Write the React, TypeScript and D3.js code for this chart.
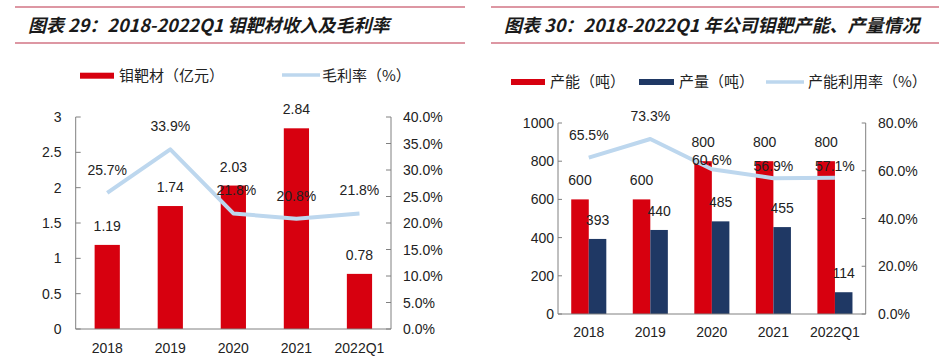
import React from 'react';
import * as d3 from 'd3';

const categories = ['2018', '2019', '2020', '2021', '2022Q1'];
// Chart 29
const revenue = [1.19, 1.74, 2.03, 2.84, 0.78];
const grossMargin = [25.7, 33.9, 21.8, 20.8, 21.8];
const revenueTicks = [0, 0.5, 1, 1.5, 2, 2.5, 3];
const marginTicks = [0, 5, 10, 15, 20, 25, 30, 35, 40];
// Chart 30
const capacity = [600, 600, 800, 800, 800];
const production = [393, 440, 485, 455, 114];
const utilization = [65.5, 73.3, 60.6, 56.9, 57.1];
const tonTicks = [0, 200, 400, 600, 800, 1000];
const utilTicks = [0, 20, 40, 60, 80];

const title1 = '图表 29：2018-2022Q1 钼靶材收入及毛利率';
const title2 = '图表 30：2018-2022Q1 年公司钼靶产能、产量情况';

// layout-only label adjustments (px)
const utilLabelDy = [-18, -18, -4, -7, -7];

const RED = '#d7000f';
const NAVY = '#1f3864';
const LIGHT = '#bdd7ee';
const AXIS = '#808080';
const PINK = '#d27585';
const NUM_FONT = '"Liberation Sans", Arial, "Noto Sans CJK SC", sans-serif';
const CJK_FONT = '"Noto Sans CJK SC", sans-serif';

function Header({ x0, x1, title, tx }: { x0: number; x1: number; title: string; tx: number }) {
  return (
    <g>
      <line x1={x0} x2={x1} y1={7} y2={7} stroke={PINK} strokeWidth={1.5} />
      <line x1={x0} x2={x1} y1={43} y2={43} stroke={PINK} strokeWidth={1.5} />
      <text x={tx} y={32} fontFamily={CJK_FONT} fontSize={18} fontWeight="bold" fontStyle="italic" fill="#1a1a1a">
        {title}
      </text>
    </g>
  );
}

function Chart1() {
  const left = 75.7, right = 391, top = 117, bottom = 329;
  const x = d3.scaleBand<string>().domain(categories).range([left, right]).paddingInner(0).paddingOuter(0);
  const yL = d3.scaleLinear().domain([0, 3]).range([bottom, top]);
  const yR = d3.scaleLinear().domain([0, 40]).range([bottom, top]);
  const bw = x.bandwidth() * 0.4;
  const cx = (c: string) => (x(c) as number) + x.bandwidth() / 2;
  const line = d3.line<number>().x((_, i) => cx(categories[i])).y((d) => yR(d));
  return (
    <g>
      {/* legend */}
      <rect x={80} y={72.7} width={34} height={6} fill={RED} />
      <text x={119} y={81} fontFamily={CJK_FONT} fontSize={15} fill="#222">钼靶材（亿元）</text>
      <line x1={282} x2={320} y1={75} y2={75} stroke={LIGHT} strokeWidth={3.5} />
      <text x={322} y={81} fontFamily={CJK_FONT} fontSize={15} fill="#222">毛利率（%）</text>
      {/* bars */}
      {revenue.map((v, i) => (
        <rect key={i} x={cx(categories[i]) - bw / 2} y={yL(v)} width={bw} height={bottom - yL(v)} fill={RED} />
      ))}
      {/* axes */}
      <line x1={left} x2={left} y1={top} y2={bottom} stroke={AXIS} />
      <line x1={right} x2={right} y1={top} y2={bottom} stroke={AXIS} />
      <line x1={left} x2={right} y1={bottom} y2={bottom} stroke={AXIS} />
      {revenueTicks.map((t) => (
        <g key={'l' + t}>
          <line x1={left} x2={left + 5} y1={yL(t)} y2={yL(t)} stroke={AXIS} />
          <text x={61.5} y={yL(t) + 5} textAnchor="end" fontFamily={NUM_FONT} fontSize={14} fill="#222">{String(t)}</text>
        </g>
      ))}
      {marginTicks.map((t) => (
        <g key={'r' + t}>
          <line x1={right - 5} x2={right} y1={yR(t)} y2={yR(t)} stroke={AXIS} />
          <text x={403} y={yR(t) + 5} fontFamily={NUM_FONT} fontSize={14} fill="#222">{t.toFixed(1) + '%'}</text>
        </g>
      ))}
      {categories.map((c) => (
        <text key={c} x={cx(c)} y={353} textAnchor="middle" fontFamily={NUM_FONT} fontSize={14} fill="#222">{c}</text>
      ))}
      {/* line */}
      <path d={line(grossMargin) as string} fill="none" stroke={LIGHT} strokeWidth={4} strokeLinejoin="round" />
      {/* labels */}
      {revenue.map((v, i) => (
        <text key={'bl' + i} x={cx(categories[i])} y={yL(v) - 14} textAnchor="middle" fontFamily={NUM_FONT} fontSize={14} fill="#222">{v.toFixed(2)}</text>
      ))}
      {grossMargin.map((v, i) => (
        <text key={'ll' + i} x={cx(categories[i]) + (i === 2 ? 3 : 0)} y={yR(v) - 18} textAnchor="middle" fontFamily={NUM_FONT} fontSize={14} fill="#222">{v.toFixed(1) + '%'}</text>
      ))}
    </g>
  );
}

function Chart2() {
  const left = 558, right = 865.7, top = 123, bottom = 314;
  const x = d3.scaleBand<string>().domain(categories).range([left, right]).paddingInner(0).paddingOuter(0);
  const yL = d3.scaleLinear().domain([0, 1000]).range([bottom, top]);
  const yR = d3.scaleLinear().domain([0, 80]).range([bottom, top]);
  const bw = x.bandwidth() * 0.285;
  const cx = (c: string) => (x(c) as number) + x.bandwidth() / 2;
  const line = d3.line<number>().x((_, i) => cx(categories[i])).y((d) => yR(d));
  return (
    <g>
      {/* legend */}
      <rect x={511} y={79} width={34} height={6} fill={RED} />
      <text x={550} y={87} fontFamily={CJK_FONT} fontSize={15} fill="#222">产能（吨）</text>
      <rect x={639} y={79} width={35} height={6} fill={NAVY} />
      <text x={679} y={87} fontFamily={CJK_FONT} fontSize={15} fill="#222">产量（吨）</text>
      <line x1={766} x2={804} y1={82} y2={82} stroke={LIGHT} strokeWidth={3.5} />
      <text x={808} y={87} fontFamily={CJK_FONT} fontSize={15} fill="#222">产能利用率（%）</text>
      {/* bars */}
      {capacity.map((v, i) => (
        <rect key={'c' + i} x={cx(categories[i]) - bw} y={yL(v)} width={bw} height={bottom - yL(v)} fill={RED} />
      ))}
      {production.map((v, i) => (
        <rect key={'p' + i} x={cx(categories[i])} y={yL(v)} width={bw} height={bottom - yL(v)} fill={NAVY} />
      ))}
      {/* axes */}
      <line x1={left} x2={left} y1={top} y2={bottom} stroke={AXIS} />
      <line x1={right} x2={right} y1={top} y2={bottom} stroke={AXIS} />
      <line x1={left} x2={right} y1={bottom} y2={bottom} stroke={AXIS} />
      {tonTicks.map((t) => (
        <g key={'l' + t}>
          <line x1={left} x2={left + 4} y1={yL(t)} y2={yL(t)} stroke={AXIS} />
          <text x={554} y={yL(t) + 5} textAnchor="end" fontFamily={NUM_FONT} fontSize={14} fill="#222">{String(t)}</text>
        </g>
      ))}
      {utilTicks.map((t) => (
        <g key={'r' + t}>
          <line x1={right - 4} x2={right} y1={yR(t)} y2={yR(t)} stroke={AXIS} />
          <text x={878} y={yR(t) + 5} fontFamily={NUM_FONT} fontSize={14} fill="#222">{t.toFixed(1) + '%'}</text>
        </g>
      ))}
      {categories.map((c) => (
        <text key={c} x={cx(c)} y={337} textAnchor="middle" fontFamily={NUM_FONT} fontSize={14} fill="#222">{c}</text>
      ))}
      {/* line */}
      <path d={line(utilization) as string} fill="none" stroke={LIGHT} strokeWidth={4} strokeLinejoin="round" />
      {/* labels */}
      {capacity.map((v, i) => (
        <text key={'cl' + i} x={cx(categories[i]) - bw / 2} y={yL(v) - 14} textAnchor="middle" fontFamily={NUM_FONT} fontSize={14} fill="#222">{String(v)}</text>
      ))}
      {production.map((v, i) => (
        <text key={'pl' + i} x={cx(categories[i]) + bw / 2} y={yL(v) - 14} textAnchor="middle" fontFamily={NUM_FONT} fontSize={14} fill="#222">{String(v)}</text>
      ))}
      {utilization.map((v, i) => (
        <text key={'ul' + i} x={cx(categories[i])} y={yR(v) + utilLabelDy[i]} textAnchor="middle" fontFamily={NUM_FONT} fontSize={14} fill="#222">{v.toFixed(1) + '%'}</text>
      ))}
    </g>
  );
}

export default function App() {
  return (
    <svg width={952} height={356} viewBox="0 0 952 356" style={{ position: 'absolute', left: 0, top: 0, background: '#fff' }}>
      <rect width={952} height={356} fill="#fff" />
      <Header x0={15} x1={465} title={title1} tx={28} />
      <Header x0={491} x1={939} title={title2} tx={504} />
      <Chart1 />
      <Chart2 />
    </svg>
  );
}
